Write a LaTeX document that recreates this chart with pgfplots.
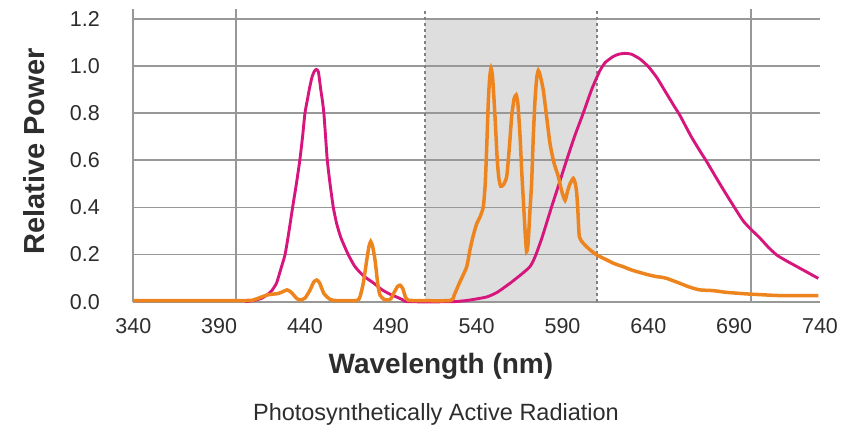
\documentclass[border=0pt]{standalone}
\usepackage{pgfplots}
\pgfplotsset{compat=1.18}
\usepackage{fontspec}
\setmainfont{Liberation Sans}
\definecolor{magentaC}{RGB}{214,22,124}
\definecolor{orangeC}{RGB}{238,132,30}
\definecolor{shadeC}{RGB}{222,222,222}
\definecolor{gridC}{RGB}{152,152,152}
\definecolor{txtC}{RGB}{45,45,45}
\begin{document}
\begin{tikzpicture}
\begin{axis}[
  set layers,
  scale only axis,
  width=686.7bp, height=292.4bp,
  xmin=340, xmax=740, ymin=0, ymax=1.24,
  clip=false,
  axis line style={draw=none},
  xtick={340,390,...,740},
  ytick={0,0.2,0.4,0.6,0.8,1.0,1.2},
  ymajorgrids,
  grid style={gridC, line width=1.7bp},
  major tick length=0pt,
  extra x ticks={400,700},
  extra x tick labels={},
  extra x tick style={grid=major},
  /pgf/number format/assume math mode=true,
  yticklabel={\pgfmathprintnumber[fixed,fixed zerofill,precision=1]{\tick}},
  xticklabel={\pgfmathprintnumber[int detect]{\tick}},
  tick label style={font=\fontsize{21.5bp}{25bp}\selectfont, text=txtC},
  yticklabel style={xshift=-30bp},
  xticklabel style={yshift=-13bp},
]
\addplot[on layer=axis background, fill=shadeC, draw=none] coordinates {(510,0)(510,1.2)(610,1.2)(610,0)} \closedcycle;
\addplot[gridC!85!black, line width=1.6bp, dash pattern=on 2.5bp off 3.5bp] coordinates {(510,0)(510,1.24)};
\addplot[gridC!85!black, line width=1.6bp, dash pattern=on 2.5bp off 3.5bp] coordinates {(610,0)(610,1.24)};
\addplot[gridC, line width=1.7bp] coordinates {(340,0)(340,1.24)};
\addplot[magentaC, line width=2.9bp, smooth, tension=0.35] coordinates {
(405,0)(410,0.005)(415,0.015)(419,0.035)(421,0.05)(423.5,0.08)(426,0.14)(428.4,0.2)(430.5,0.29)(432.8,0.4)(435,0.5)(437,0.6)(438.6,0.7)(440,0.8)(441.5,0.86)(442.5,0.9)(444,0.95)(445.3,0.975)(446.5,0.985)(447.8,0.975)(449.2,0.9)(450.2,0.85)(451,0.8)(452,0.7)(453,0.6)(454.6,0.5)(456.5,0.4)(458.5,0.33)(461,0.27)(465.2,0.2)(469,0.15)(474,0.11)(479.8,0.08)(485,0.05)(490,0.03)(493.4,0.02)(497,0.008)(500,0)(526,0)(535,0.006)(545.8,0.02)(552,0.04)(559.4,0.078)(565,0.11)(571,0.148)(574,0.19)(578,0.27)(583.7,0.403)(588,0.5)(592.4,0.6)(597,0.7)(602.1,0.8)(607,0.9)(611.8,0.98)(615,1.015)(619.6,1.04)(623,1.05)(626.4,1.053)(630,1.05)(635,1.03)(640,0.997)(645,0.95)(650,0.89)(655,0.83)(658.4,0.79)(665,0.7)(670,0.64)(674,0.594)(680,0.52)(685,0.46)(690.5,0.396)(695,0.345)(699.2,0.311)(705,0.27)(710,0.23)(714.8,0.198)(720,0.175)(725,0.155)(730,0.135)(735,0.115)(739,0.099)
};
\addplot[orangeC, line width=3.5bp, smooth, tension=0.35] coordinates {
(340,0.005)(405,0.005)(410,0.008)(414,0.018)(417.7,0.028)(421,0.032)(424,0.034)(427,0.042)(429.5,0.05)(432,0.04)(435,0.015)(437,0.007)(440,0.015)(443,0.05)(445,0.082)(446.8,0.092)(448.5,0.08)(451,0.035)(454.6,0.01)(458,0.005)(470,0.005)(472,0.02)(474,0.08)(476,0.177)(477.3,0.235)(478.3,0.255)(479.4,0.235)(480.8,0.177)(482.5,0.07)(483.7,0.028)(486,0.01)(488,0.007)(490,0.012)(492,0.04)(494,0.065)(495.4,0.07)(497,0.055)(498.5,0.02)(500,0.007)(503,0.005)(524.5,0.005)(527,0.03)(530,0.08)(534.2,0.148)(536.1,0.22)(538,0.28)(540,0.33)(542,0.36)(543.9,0.403)(545,0.5)(545.8,0.643)(546.8,0.85)(547.6,0.95)(548.4,0.99)(549.3,0.95)(550.7,0.785)(552,0.6)(553,0.52)(554,0.49)(555.5,0.495)(557.5,0.53)(559,0.65)(560.4,0.785)(561.8,0.86)(563,0.877)(564,0.84)(565.2,0.714)(566.2,0.56)(567.2,0.43)(568.2,0.3)(569.1,0.212)(570,0.25)(571,0.38)(572,0.5)(573,0.7)(574,0.855)(575,0.95)(575.9,0.98)(577,0.96)(578.8,0.898)(580.5,0.8)(582.7,0.672)(585,0.59)(587.6,0.53)(589.5,0.47)(591.5,0.43)(593,0.47)(594.4,0.5)(596.3,0.523)(597.5,0.5)(598.3,0.46)(599,0.38)(599.8,0.276)(602.1,0.248)(606,0.22)(610,0.198)(615,0.18)(620,0.162)(625.5,0.148)(630,0.135)(635,0.124)(640,0.114)(644.9,0.106)(647.5,0.104)(650.7,0.099)(654,0.09)(658.4,0.078)(664,0.062)(670,0.05)(677.8,0.047)(685,0.04)(690,0.037)(697.3,0.033)(705,0.03)(716.7,0.026)(739,0.026)
};
\coordinate (O) at (axis cs:340,0);
\node[yshift=-71.3bp, anchor=base, text=txtC, font=\fontsize{28bp}{32bp}\selectfont\bfseries] at (axis cs:519.2,0) {Wavelength (nm)};
\node[yshift=-118.3bp, anchor=base, text=txtC, font=\fontsize{23.5bp}{27bp}\selectfont] at (axis cs:516.3,0) {Photosynthetically Active Radiation};
\node[xshift=-88.3bp, rotate=90, anchor=base, text=txtC, font=\fontsize{29bp}{33bp}\selectfont\bfseries] at (axis cs:340,0.637) {Relative Power};
\end{axis}
\pgfresetboundingbox
\path ([shift={(-133.3bp,-125.3bp)}]O) rectangle ++(848bp,427bp);
\end{tikzpicture}
\end{document}
